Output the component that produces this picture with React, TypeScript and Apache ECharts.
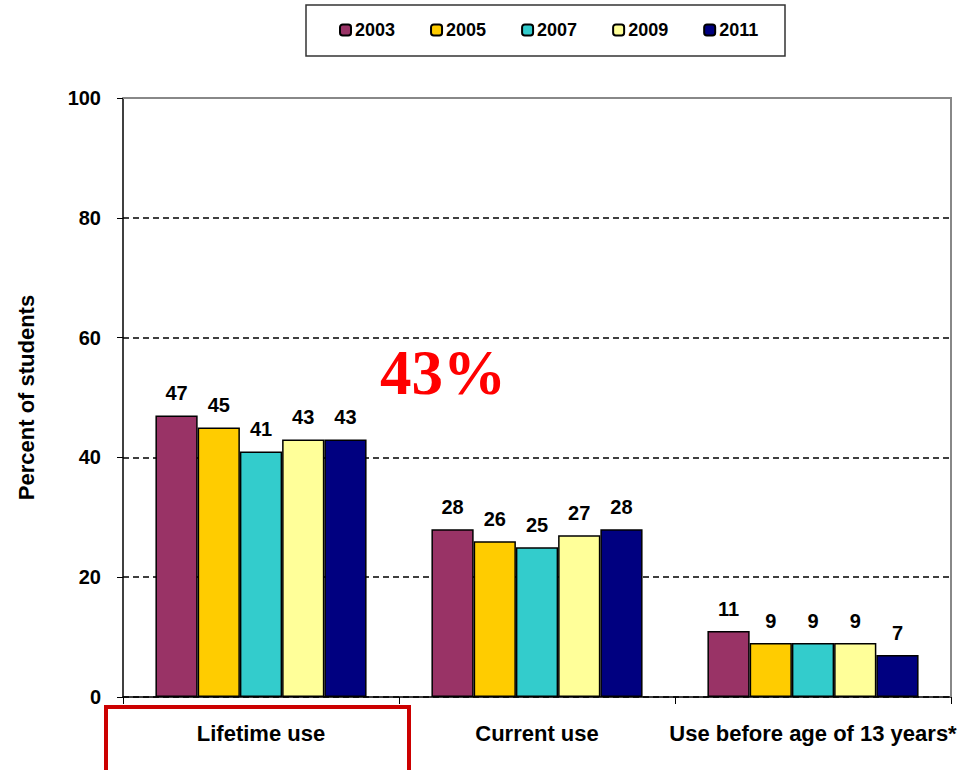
import React, { useEffect, useRef } from "react";
import * as echarts from "echarts";

const categories = ["Lifetime use", "Current use", "Use before age of 13 years*"];
const years = ["2003", "2005", "2007", "2009", "2011"];
const values2003 = [47, 28, 11];
const values2005 = [45, 26, 9];
const values2007 = [41, 25, 9];
const values2009 = [43, 27, 9];
const values2011 = [43, 28, 7];
const colors = ["#993366", "#FFCC00", "#33CCCC", "#FFFF99", "#000080"];
const highlightText = "43%";

const FONT = "'Liberation Sans', Arial, sans-serif";

export default function App() {
  const ref = useRef<HTMLDivElement>(null);
  useEffect(() => {
    if (!ref.current) return;
    const chart = echarts.init(ref.current, null, { renderer: "svg" });
    const seriesData = [values2003, values2005, values2007, values2009, values2011];
    chart.setOption({
      animation: false,
      backgroundColor: "#ffffff",
      textStyle: { fontFamily: FONT },
      legend: {
        left: 339,
        top: 21,
        itemWidth: 11,
        itemHeight: 11,
        itemGap: 35,
        padding: 0,
        textStyle: { fontFamily: FONT, fontWeight: "bold", fontSize: 18, color: "#000", padding: [0, 0, 0, -1] },
        data: years,
      },
      grid: {
        left: 123,
        top: 98,
        right: 12,
        bottom: 73,
        containLabel: false,
      },
      xAxis: {
        type: "category",
        data: categories,
        axisLine: { show: true, lineStyle: { color: "#000", width: 1.5 } },
        axisTick: { show: true, inside: false, length: 7, lineStyle: { color: "#000", width: 1 } },
        axisLabel: {
          interval: 0,
          hideOverlap: false,
          margin: 25,
          fontFamily: FONT,
          fontWeight: "bold",
          fontSize: 22,
          color: "#000",
        },
      },
      yAxis: {
        type: "value",
        min: 0,
        max: 100,
        interval: 20,
        name: "Percent of students",
        nameLocation: "middle",
        nameGap: 86,
        nameRotate: 90,
        nameTextStyle: { fontFamily: FONT, fontWeight: "bold", fontSize: 22, color: "#000" },
        axisLine: { show: true, lineStyle: { color: "#000", width: 1.5 } },
        axisTick: { show: true, inside: false, length: 6, lineStyle: { color: "#000", width: 1 } },
        axisLabel: {
          margin: 22,
          fontFamily: FONT,
          fontWeight: "bold",
          fontSize: 20,
          color: "#000",
        },
        splitLine: { show: true, lineStyle: { color: "#000", type: [6, 4], width: 1.5 } },
      },
      series: years.map((y, i) => ({
        name: y,
        type: "bar",
        data: seriesData[i],
        barGap: "0%",
        barCategoryGap: "23.5%",
        itemStyle: { color: colors[i], borderColor: "#000", borderWidth: 1.5 },
        label: {
          show: true,
          position: "top",
          distance: 12,
          fontFamily: FONT,
          fontWeight: "bold",
          fontSize: 20,
          color: "#000",
        },
      })),
      graphic: [
        {
          type: "rect",
          shape: { x: 306, y: 5, width: 479, height: 51 },
          style: { fill: "none", stroke: "#333", lineWidth: 1.5 },
          z: 100,
        },
        {
          type: "polyline",
          shape: { points: [[123, 98], [951, 98], [951, 697]] },
          style: { fill: "none", stroke: "#888", lineWidth: 2 },
          z: 100,
        },
        {
          type: "text",
          left: 380,
          top: 341,
          style: {
            text: highlightText,
            fontFamily: "'Liberation Serif', 'Times New Roman', serif",
            fontWeight: "bold",
            fontSize: 63,
            fill: "#FF0000",
          },
          z: 100,
        },
        {
          type: "rect",
          shape: { x: 106, y: 707, width: 303, height: 70 },
          style: { fill: "none", stroke: "#CC0000", lineWidth: 4 },
          z: 100,
        },
      ],
    });
    return () => chart.dispose();
  }, []);
  return (
    <div
      ref={ref}
      style={{ position: "absolute", left: 0, top: 0, width: 963, height: 770 }}
    />
  );
}
